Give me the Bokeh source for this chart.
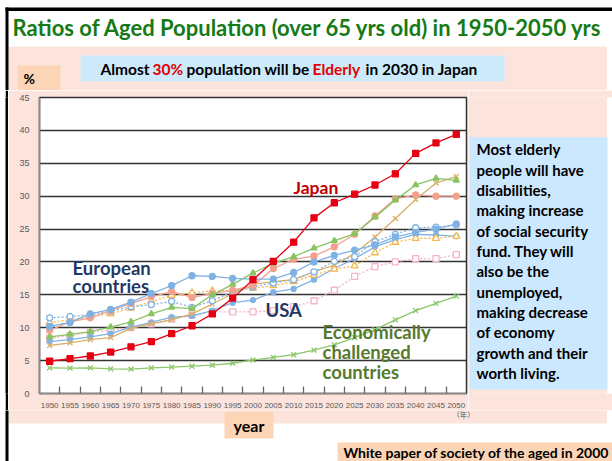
from bokeh.plotting import figure
from bokeh.models import Range1d, FixedTicker, Label
from bokeh.layouts import column, row
from bokeh.embed import file_html
from bokeh.resources import INLINE

# ---------------- data ----------------
years = [1950, 1955, 1960, 1965, 1970, 1975, 1980, 1985, 1990, 1995, 2000,
         2005, 2010, 2015, 2020, 2025, 2030, 2035, 2040, 2045, 2050]
year_labels = [str(y) for y in years]
y_ticks = [0, 5, 10, 15, 20, 25, 30, 35, 40, 45]

japan = [4.9, 5.3, 5.7, 6.3, 7.1, 7.9, 9.1, 10.3, 12.1, 14.5, 17.3,
         20.1, 23.0, 26.7, 29.0, 30.3, 31.7, 33.4, 36.5, 38.1, 39.4]
less_developed = [3.9, 3.85, 3.9, 3.75, 3.7, 3.9, 4.0, 4.15, 4.3, 4.6, 5.1,
                  5.5, 5.9, 6.6, 7.4, 8.5, 9.7, 11.2, 12.6, 13.7, 14.8]
green_tri = [8.6, 9.0, 9.4, 10.1, 10.9, 12.1, 13.1, 12.9, 15.0, 16.6, 18.3,
             19.8, 20.8, 22.1, 23.2, 24.3, 26.8, 29.4, 31.7, 32.7, 32.4]
salmon = [9.6, 10.9, 11.5, 12.6, 13.7, 14.7, 15.5, 14.6, 15.2, 15.7, 16.4,
          19.0, 20.4, 20.9, 22.3, 24.2, 27.0, 29.6, 30.2, 30.0, 30.0]
tan_x = [7.3, 7.7, 8.2, 8.5, 9.9, 10.6, 11.2, 12.1, 13.6, 15.2, 16.6,
         17.0, 17.3, 18.5, 19.5, 21.3, 23.8, 26.6, 29.5, 32.0, 33.0]
orange_tri = [10.8, 11.2, 11.7, 12.1, 13.0, 14.0, 14.9, 15.3, 15.6, 15.6, 16.0,
              16.4, 17.0, 18.0, 18.9, 19.4, 21.4, 23.0, 23.6, 23.6, 23.9]
blue_open = [11.5, 11.7, 12.0, 12.5, 13.2, 13.5, 14.0, 13.1, 14.1, 15.5, 16.2,
             16.8, 17.3, 18.5, 20.1, 20.8, 23.1, 24.2, 25.2, 25.3, 25.6]
blue_filled = [10.2, 10.8, 12.1, 12.8, 13.9, 15.2, 16.4, 17.9, 17.8, 17.5, 17.4,
               17.4, 18.4, 20.0, 21.0, 21.8, 22.6, 23.8, 24.5, 25.0, 25.8]
blue_lower = [7.9, 8.2, 8.6, 9.1, 10.1, 10.8, 11.6, 11.8, 12.6, 13.8, 14.2,
              15.4, 15.9, 17.3, 19.0, 20.5, 22.3, 23.4, 24.2, 24.1, 23.9]
usa = [8.4, 8.8, 9.3, 9.6, 10.0, 10.6, 11.3, 11.9, 12.4, 12.4, 12.4,
       12.6, 13.2, 14.1, 15.7, 17.8, 19.3, 20.0, 20.5, 20.5, 21.1]

right_lines = ["Most elderly", "people will  have", "disabilities,", "making increase",
               "of social security", "fund. They will", "also be the", "unemployed,",
               "making decrease", "of  economy", "growth and their", "worth living."]

# ---------------- style constants ----------------
PINK = "#FCE4DD"
PEACH = "#FBD5B5"
LBLUE = "#CDEAFB"
PAGE_W, PAGE_H = 612, 461
TOP_H = 90          # page y 0..90
MID_H = 320         # page y 90..410
BOT_H = PAGE_H - TOP_H - MID_H
MAIN_X = 8
MAIN_W = 460        # page x 8..468
RIGHT_W = PAGE_W - MAIN_X - MAIN_W
FL, FW, FT, FH = 31, 427, 7, 297
FB = MID_H - FT - FH


def panel(x0, y0, w, h, bt=0, bb=0, fill="white", border="white"):
    """figure whose frame is in page pixel coordinates (y negated)"""
    f = figure(width=w, height=h, x_range=Range1d(x0, x0 + w),
               y_range=Range1d(-(y0 + h - bb), -(y0 + bt)),
               output_backend="svg", toolbar_location=None, min_border=0,
               min_border_left=0, min_border_right=0, min_border_top=bt, min_border_bottom=bb,
               x_axis_location=None, y_axis_location=None, outline_line_color=None,
               background_fill_color=fill, border_fill_color=border)
    f.xgrid.visible = False
    f.ygrid.visible = False
    return f


def pbox(f, l, r, t, b, color):
    f.quad(left=l, right=r, top=-t, bottom=-b, fill_color=color, line_color=None)


def plabel(f, x, y, text, size, color="black", font="Lato", style="bold", align="left"):
    f.add_layout(Label(x=x, y=-y, text=text, text_font=font, text_font_size=size,
                       text_font_style=style, text_color=color, text_align=align,
                       text_baseline="middle"))


# ---------------- top panel ----------------
top = panel(0, 0, PAGE_W, TOP_H)
pbox(top, 8, 606.5, 46, TOP_H + 1, PINK)
pbox(top, 5, PAGE_W + 1, 7, 10.5, "black")
pbox(top, 5, 8, 7, TOP_H + 1, "black")
plabel(top, 12, 27, "Ratios of  Aged Population  (over 65 yrs old)  in 1950-2050 yrs",
       "22px", color="#167A16")
pbox(top, 80, 504, 55, 81, LBLUE)
plabel(top, 100, 68, "Almost", "15.5px")
plabel(top, 152, 68, "30%", "15.5px", color="#E00000")
plabel(top, 186, 68, "population will be", "15.5px")
plabel(top, 312, 68, "Elderly", "15.5px", color="#E00000")
plabel(top, 365, 68, "in 2030 in Japan", "15.5px")
pbox(top, 17, 60, 65, 90, PEACH)
plabel(top, 23, 78, "%", "14px")

# ---------------- left strips (white margin + black rule) ----------------
strip_w = panel(0, TOP_H, 5, MID_H, bt=FT, bb=FB, fill="white", border="white")
strip_b = panel(5, TOP_H, 3, MID_H, bt=FT, bb=FB, fill="black", border="black")

# ---------------- main chart ----------------
X0, X1, Y0, Y1 = 1947.5, 2052.5, 0, 45

p = figure(width=MAIN_W, height=MID_H, x_range=Range1d(X0, X1), y_range=Range1d(Y0, Y1),
           output_backend="svg", toolbar_location=None,
           min_border_left=FL, min_border_right=MAIN_W - FL - FW,
           min_border_top=FT, min_border_bottom=FB,
           border_fill_color=PINK, background_fill_color="white",
           outline_line_color="#333333", outline_line_width=1.5)


def dx(page_x):
    return X0 + (page_x - MAIN_X - FL) * (X1 - X0) / FW


def dy(page_y):
    return Y0 + (FT + FH - (page_y - TOP_H)) * (Y1 - Y0) / FH


p.xgrid.visible = False
p.ygrid.ticker = FixedTicker(ticks=y_ticks[1:-1])
p.ygrid.grid_line_color = "#333333"
p.ygrid.grid_line_width = 1.3

p.yaxis.ticker = FixedTicker(ticks=y_ticks)
p.yaxis.major_tick_line_color = None
p.yaxis.minor_tick_line_color = None
p.yaxis.axis_line_color = "#8a8a8a"
p.yaxis.axis_line_width = 1.5
p.yaxis.major_label_text_font = "Liberation Sans"
p.yaxis.major_label_text_font_size = "9px"
p.yaxis.major_label_text_color = "#595959"
p.yaxis.major_label_standoff = 4

p.xaxis.ticker = FixedTicker(ticks=years, minor_ticks=[y + 2.5 for y in years[:-1]])
p.xaxis.major_label_overrides = {y: s for y, s in zip(years, year_labels)}
p.xaxis.major_tick_line_color = None
p.xaxis.minor_tick_in = 7
p.xaxis.minor_tick_out = 0
p.xaxis.minor_tick_line_color = "#666666"
p.xaxis.minor_tick_line_width = 1.3
p.xaxis.axis_line_color = "#8a8a8a"
p.xaxis.axis_line_width = 1.5
p.xaxis.major_label_text_font = "Liberation Sans"
p.xaxis.major_label_text_font_size = "8px"
p.xaxis.major_label_text_color = "#595959"
p.xaxis.major_label_standoff = 3


def series(vals, color, marker, size, dash="solid", fill=None, lw=1.3):
    p.line(years, vals, line_color=color, line_width=lw, line_dash=dash)
    p.scatter(years, vals, marker=marker, size=size, line_color=color,
              fill_color=fill if fill else color, line_width=1.3)


series(less_developed, "#8CC66A", "x", 7)
series(usa, "#F4B3C8", "square", 6, dash="2 2", fill="white")
series(blue_lower, "#80B3E3", "circle", 5)
series(tan_x, "#D9B06A", "x", 7)
series(orange_tri, "#F5B84E", "triangle", 7, dash="2 2", fill="white")
series(blue_open, "#80B3E3", "circle", 6, dash="2 2", fill="white")
series(salmon, "#F3A08C", "circle", 6)
series(green_tri, "#88C460", "triangle", 6)
series(blue_filled, "#7FB1E2", "circle", 6)
series(japan, "#E60012", "square", 6)


def mlabel(x, y, text, size, color, font="Lato"):
    p.add_layout(Label(x=dx(x), y=dy(y), text=text, text_font=font, text_font_size=size,
                       text_font_style="bold", text_color=color, text_align="left",
                       text_baseline="middle"))


mlabel(293, 187, "Japan", "17.5px", "#C00000")
mlabel(72, 268, "European", "18.5px", "#1F3864")
mlabel(72, 286, "countries", "18.5px", "#1F3864")
mlabel(265, 310, "USA", "18.5px", "#1F3864")
mlabel(322, 332, "Economically", "18.5px", "#557A2E")
mlabel(322, 352, "challenged", "18.5px", "#557A2E")
mlabel(322, 372, "countries", "18.5px", "#557A2E")

# ---------------- right panel ----------------
right = panel(MAIN_X + MAIN_W, TOP_H, RIGHT_W, MID_H, bt=FT, bb=FB, fill=PINK, border=PINK)
pbox(right, 606.5, PAGE_W + 1, TOP_H, TOP_H + MID_H, "white")
pbox(right, 469.5, 607, 137, 390, "#CCE8FE")
for i, t in enumerate(right_lines):
    plabel(right, 476, 149 + i * 20.4, t, "15px")

# ---------------- bottom panel ----------------
bot = panel(0, TOP_H + MID_H, PAGE_W, BOT_H)
pbox(bot, 8, 606.5, TOP_H + MID_H - 1, 423, PINK)
pbox(bot, 5, 8, TOP_H + MID_H - 1, PAGE_H + 1, "black")
plabel(bot, 463, 414, "（年）", "7.5px", color="#595959", font="Noto Sans CJK JP",
       style="normal", align="center")
pbox(bot, 224, 273, 411, 438, PEACH)
plabel(bot, 248.5, 425, "year", "16px", align="center")
pbox(bot, 337, PAGE_W + 1, 442, PAGE_H + 1, PEACH)
plabel(bot, 476, 452, "White paper of society of the aged in 2000", "14px", align="center")

layout = column(top, row(strip_w, strip_b, p, right), bot)

open("out.html", "w").write(file_html(layout, INLINE))
